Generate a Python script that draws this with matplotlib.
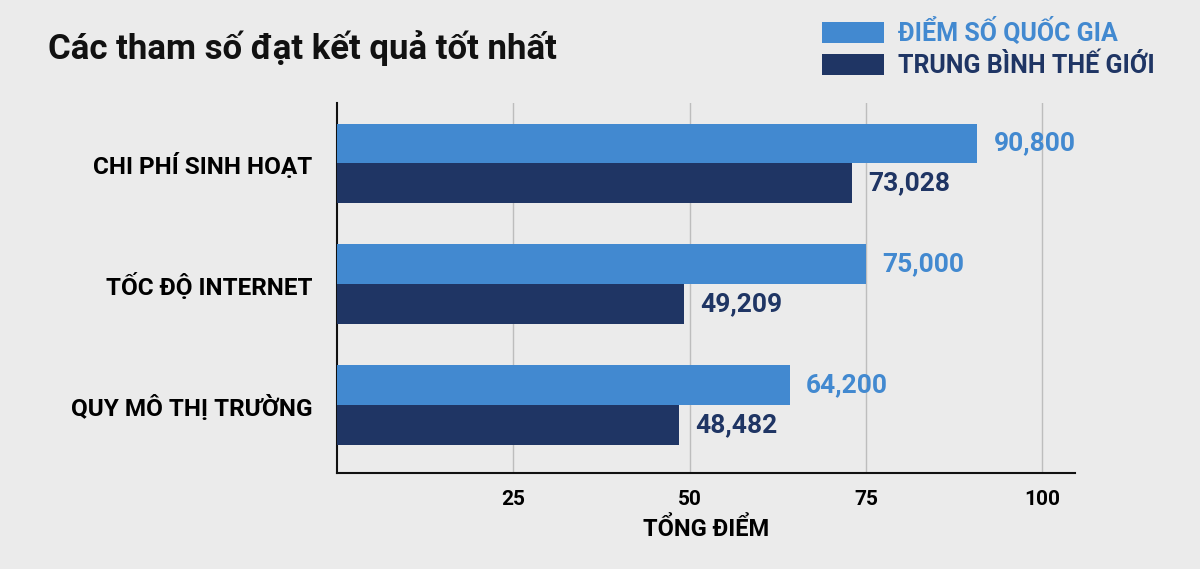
import matplotlib
matplotlib.use("Agg")
import matplotlib.pyplot as plt
import numpy as np

# ── Dữ liệu ───────────────────────────────────────────────────────────────────
categories = ["CHI PHÍ SINH HOẠT", "TỐC ĐỘ INTERNET", "QUY MÔ THỊ TRƯỜNG"]
diem_quoc_gia = [90.800, 75.000, 64.200]
trung_binh_tg = [73.028, 49.209, 48.482]
xticks = [25, 50, 75, 100]

LIGHT = "#4289d0"
DARK = "#1f3564"
BG = "#ebebeb"

plt.rcParams["font.family"] = ["Roboto", "DejaVu Sans"]
plt.rcParams["font.weight"] = "bold"

fig = plt.figure(figsize=(12, 5.69), dpi=100, facecolor=BG)
ax = fig.add_axes([0.281, 0.169, 0.615, 0.65], facecolor=BG)

y = np.arange(len(categories))
h = 0.33
b1 = ax.barh(y - h / 2, diem_quoc_gia, height=h, color=LIGHT, label="ĐIỂM SỐ QUỐC GIA", zorder=3)
b2 = ax.barh(y + h / 2, trung_binh_tg, height=h, color=DARK, label="TRUNG BÌNH THẾ GIỚI", zorder=3)

# nhãn giá trị
for v, yy in zip(diem_quoc_gia, y - h / 2):
    ax.text(v + 2.3, yy, f"{v:.3f}".replace(".", ","), va="center", ha="left",
            color=LIGHT, fontsize=19, fontweight="bold", zorder=4)
for v, yy in zip(trung_binh_tg, y + h / 2):
    ax.text(v + 2.3, yy, f"{v:.3f}".replace(".", ","), va="center", ha="left",
            color=DARK, fontsize=19, fontweight="bold", zorder=4)

ax.set_ylim(2.56, -0.5)
ax.set_xlim(0, 104.7)
ax.set_yticks(y)
ax.set_yticklabels(categories, fontsize=17.5, fontweight="bold")
ax.set_xticks(xticks)
ax.set_xticklabels([str(t) for t in xticks], fontsize=15, fontweight="bold")
ax.tick_params(axis="both", length=0)
ax.tick_params(axis="y", pad=18)
ax.tick_params(axis="x", pad=12)
ax.set_xlabel("TỔNG ĐIỂM", fontsize=17, fontweight="bold", labelpad=6)

ax.grid(axis="x", color="#bdbdbd", linewidth=1, zorder=0)
for s in ["top", "right"]:
    ax.spines[s].set_visible(False)
for s in ["left", "bottom"]:
    ax.spines[s].set_color("#111111")
    ax.spines[s].set_linewidth(1.5)

fig.text(0.04, 0.915, "Các tham số đạt kết quả tốt nhất", fontsize=25,
         fontweight="bold", va="center", ha="left", color="#111111")

leg = fig.legend(handles=[b1, b2], loc="upper left", bbox_to_anchor=(0.666, 1.008),
                 frameon=False, fontsize=18, handlelength=2.5, handleheight=0.95,
                 handletextpad=0.55, labelspacing=0.3)
for t, c in zip(leg.get_texts(), [LIGHT, DARK]):
    t.set_color(c)
    t.set_fontweight("bold")

fig.savefig("out.png", dpi=100, facecolor=BG)
